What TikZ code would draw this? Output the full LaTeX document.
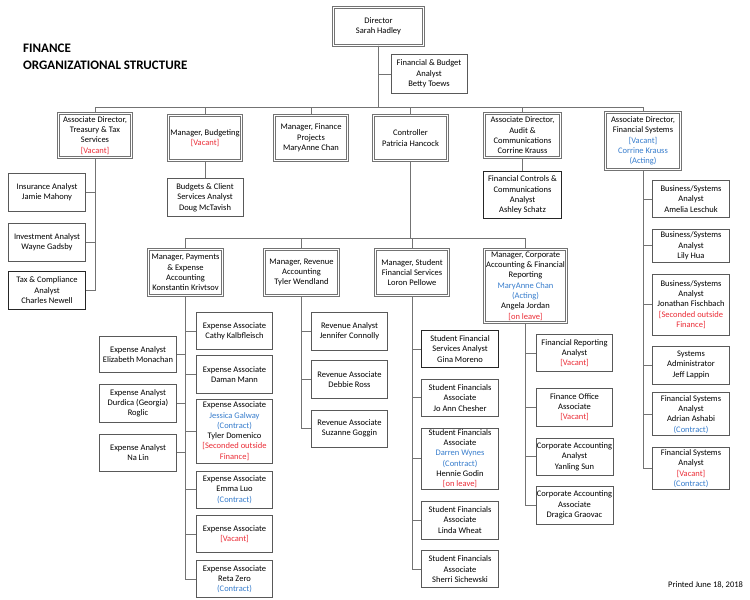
\documentclass[tikz,border=0pt]{standalone}
\usepackage{fontspec}
\setmainfont{Carlito}
\usepackage{xcolor}
\usetikzlibrary{positioning, calc}
\definecolor{vacred}{RGB}{235,45,55}
\definecolor{actblue}{RGB}{55,125,205}
\newcommand{\vacant}[1]{\textcolor{vacred}{#1}}
\newcommand{\acting}[1]{\textcolor{actblue}{#1}}

\begin{document}
\begin{tikzpicture}[
    x=1pt, y=1pt,
    post/.style={rectangle, draw=black!65, line width=0.8pt, fill=white,
      minimum width=76pt, minimum height=37pt, inner sep=1pt, align=center,
      font=\fontsize{8.5}{10.3}\selectfont},
    mgr/.style={post, draw=black!55, double=white, double distance=1.1pt,
      line width=0.9pt},
    link/.style={draw=black!55, line width=0.8pt},
    title/.style={font=\fontsize{13}{15}\selectfont\bfseries, anchor=west,
      inner sep=0pt}
]
\useasboundingbox (0,0) rectangle (750,-600);

\node[title] (ttl1) at (23,-48) {FINANCE};
\node[title] (ttl2) at (23,-65) {ORGANIZATIONAL STRUCTURE};

\node[mgr, minimum width=90pt, minimum height=38pt] (dir) at (378.5,-26.5) {Director\\Sarah Hadley};
\node[post, minimum height=39pt] (fba) at (429,-74) {Financial \& Budget\\Analyst\\Betty Toews};

\node[mgr, minimum width=73.5pt, minimum height=44.5pt] (treas) at (95,-135.5) {Associate Director,\\Treasury \& Tax\\Services\\\vacant{[Vacant]}};
\node[mgr, minimum width=73.5pt, minimum height=45.5pt] (budg)  at (205,-138)  {Manager, Budgeting\\\vacant{[Vacant]}};
\node[mgr, minimum width=73.5pt, minimum height=45.5pt] (proj)  at (311,-138)  {Manager, Finance\\Projects\\MaryAnne Chan};
\node[mgr, minimum width=73.5pt, minimum height=45.5pt] (ctrl)  at (410.5,-138) {Controller\\Patricia Hancock};
\node[mgr, minimum width=76.5pt, minimum height=44.5pt] (audit) at (522.5,-135.5) {Associate Director,\\Audit \&\\Communications\\Corrine Krauss};
\node[mgr, minimum width=75.5pt, minimum height=57.5pt] (fsys)  at (643,-141)  {Associate Director,\\Financial Systems\\\acting{[Vacant]}\\\acting{Corrine Krauss}\\\acting{(Acting)}};

\node[post, minimum width=77pt, minimum height=38pt] (ins) at (47,-192.5) {Insurance Analyst\\Jamie Mahony};
\node[post, minimum width=77pt, minimum height=38pt, below=11pt of ins] (inv) {Investment Analyst\\Wayne Gadsby};
\node[post, minimum width=77pt, minimum height=38pt, below=9pt of inv, draw=black!85] (taxc) {Tax \& Compliance\\Analyst\\Charles Newell};

\node[post, minimum height=38pt] (bcs) at (205,-197.5) {Budgets \& Client\\Services Analyst\\Doug McTavish};
\node[post, minimum width=78pt, minimum height=47pt, draw=black!85] (fcc) at (522.5,-195) {Financial Controls \&\\Communications\\Analyst\\Ashley Schatz};

\node[post, minimum width=77pt] (bsa1) at (691,-199) {Business/Systems\\Analyst\\Amelia Leschuk};
\node[post, minimum width=77pt, minimum height=33pt, below=11pt of bsa1] (bsa2) {Business/Systems\\Analyst\\Lily Hua};
\node[post, minimum width=77pt, minimum height=61pt, below=11pt of bsa2] (bsa3) {Business/Systems\\Analyst\\Jonathan Fischbach\\\vacant{[Seconded outside}\\\vacant{Finance]}};
\node[post, minimum width=77pt, minimum height=38pt, below=10pt of bsa3] (sysadm) {Systems\\Administrator\\Jeff Lappin};
\node[post, minimum width=77pt, minimum height=43pt, below=8pt of sysadm] (fsa1) {Financial Systems\\Analyst\\Adrian Ashabi\\\acting{(Contract)}};
\node[post, minimum width=77pt, minimum height=42pt, below=11pt of fsa1] (fsa2) {Financial Systems\\Analyst\\\vacant{[Vacant]}\\\acting{(Contract)}};

\node[mgr, minimum width=74.5pt, minimum height=46.5pt] (pay) at (185.5,-272.5) {Manager, Payments\\\& Expense\\Accounting\\Konstantin Krivtsov};
\node[mgr, minimum width=74.5pt, minimum height=46.5pt] (rev) at (301.5,-272.5) {Manager, Revenue\\Accounting\\Tyler Wendland};
\node[mgr, minimum width=73.5pt, minimum height=46.5pt] (sfs) at (412,-272.5)   {Manager, Student\\Financial Services\\Loron Pellowe};
\node[mgr, minimum width=82.5pt, minimum height=73.5pt] (corp) at (525.5,-286)  {Manager, Corporate\\Accounting \& Financial\\Reporting\\\acting{MaryAnne Chan}\\\acting{(Acting)}\\Angela Jordan\\\vacant{[on leave]}};

\node[post] (ea1) at (234.5,-331) {Expense Associate\\Cathy Kalbfleisch};
\node[post, minimum height=38pt, below=5pt of ea1] (ea2) {Expense Associate\\Daman Mann};
\node[post, minimum height=64pt, below=5pt of ea2] (ea3) {Expense Associate\\\acting{Jessica Galway}\\\acting{(Contract)}\\Tyler Domenico\\\vacant{[Seconded outside}\\\vacant{Finance]}};
\node[post, below=7pt of ea3] (ea4) {Expense Associate\\Emma Luo\\\acting{(Contract)}};
\node[post, below=7pt of ea4] (ea5) {Expense Associate\\\vacant{[Vacant]}};
\node[post, below=7pt of ea5] (ea6) {Expense Associate\\Reta Zero\\\acting{(Contract)}};

\node[post, minimum width=77pt, minimum height=36pt] (an1) at (138,-354.5) {Expense Analyst\\Elizabeth Monachan};
\node[post, minimum width=77pt, minimum height=38pt, below=11pt of an1] (an2) {Expense Analyst\\Durdica (Georgia)\\Roglic};
\node[post, minimum width=77pt, below=11pt of an2] (an3) {Expense Analyst\\Na Lin};

\node[post, minimum height=38pt] (ra1) at (349.5,-331.5) {Revenue Analyst\\Jennifer Connolly};
\node[post, minimum height=38pt, below=9pt of ra1] (ra2) {Revenue Associate\\Debbie Ross};
\node[post, below=11pt of ra2] (ra3) {Revenue Associate\\Suzanne Goggin};

\node[post, minimum width=77pt, draw=black!85] (sf1) at (460,-349) {Student Financial\\Services Analyst\\Gina Moreno};
\node[post, minimum width=77pt, below=11pt of sf1] (sf2) {Student Financials\\Associate\\Jo Ann Chesher};
\node[post, minimum width=77pt, minimum height=61pt, below=11pt of sf2] (sf3) {Student Financials\\Associate\\\acting{Darren Wynes}\\\acting{(Contract)}\\Hennie Godin\\\vacant{[on leave]}};
\node[post, minimum width=77pt, minimum height=38pt, below=11pt of sf3] (sf4) {Student Financials\\Associate\\Linda Wheat};
\node[post, minimum width=77pt, below=11pt of sf4] (sf5) {Student Financials\\Associate\\Sherri Sichewski};

\node[post] (ca1) at (574.5,-353) {Financial Reporting\\Analyst\\\vacant{[Vacant]}};
\node[post, minimum height=38pt, below=16pt of ca1] (ca2) {Finance Office\\Associate\\\vacant{[Vacant]}};
\node[post, below=11pt of ca2] (ca3) {Corporate Accounting\\Analyst\\Yanling Sun};
\node[post, minimum height=38pt, below=10pt of ca3] (ca4) {Corporate Accounting\\Associate\\Dragica Graovac};

\node[anchor=west, inner sep=0pt, font=\fontsize{8.5}{10.3}\selectfont] (printed) at (668,-585) {Printed June 18, 2018};

\coordinate (topbus) at (378.5,-107);
\coordinate (ctlbus) at (410.5,-238);
\draw[link] (dir.south) |- (fba.west);
\foreach \n in {treas,budg,proj,ctrl,audit,fsys}
  \draw[link] (dir.south) -- (topbus) -| (\n.north);
\foreach \n in {ins,inv,taxc}
  \draw[link] (treas.south) |- (\n.east);
\draw[link] (budg) -- (bcs);
\draw[link] (audit) -- (fcc);
\foreach \n in {bsa1,bsa2,bsa3,sysadm,fsa1,fsa2}
  \draw[link] (fsys.south) |- (\n.west);
\foreach \n in {pay,rev,sfs,corp}
  \draw[link] (ctrl.south) -- (ctlbus) -| (\n.north);
\foreach \i in {1,...,6}
  \draw[link] (pay.south) |- (ea\i.west);
\foreach \i in {1,2,3}
  \draw[link] (pay.south) |- (an\i.east);
\foreach \i in {1,2,3}
  \draw[link] (rev.south) |- (ra\i.west);
\foreach \i in {1,...,5}
  \draw[link] (sfs.south) |- (sf\i.west);
\foreach \i in {1,...,4}
  \draw[link] (corp.south) |- (ca\i.west);
\end{tikzpicture}
\end{document}
